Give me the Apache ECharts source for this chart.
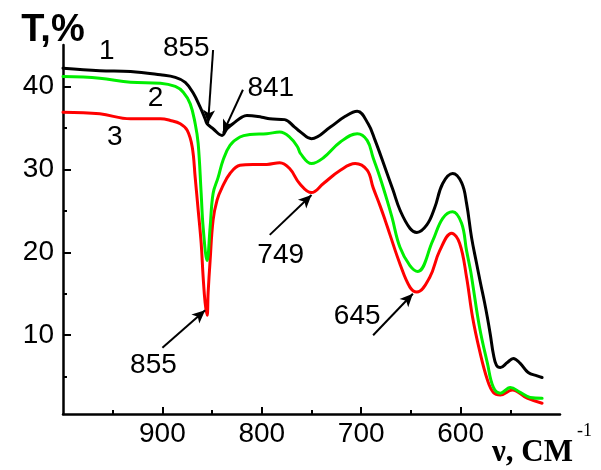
<!DOCTYPE html>
<html>
<head>
<meta charset="utf-8">
<script src="https://cdn.jsdelivr.net/npm/echarts@6/dist/echarts.min.js"></script>
<style>
html,body{margin:0;padding:0;background:#fff;}
#chart{width:601px;height:470px;}
</style>
</head>
<body>
<div id="chart"></div>
<script>
// ---- Data (wavenumber, cm^-1 ; transmittance, %) ----
const wn1 = [1000, 963, 932, 902, 887, 877, 869, 862, 857, 855, 849, 840, 835, 827, 820, 815, 800, 792, 777, 767, 762, 750, 731, 716, 704, 693, 686, 676, 668, 661, 651, 644, 634, 626, 618, 608, 599, 594, 589, 584, 580, 576, 573, 570, 567, 564, 560, 553, 547, 540, 532, 523, 518];
const t1  = [42.2, 41.9, 41.8, 41.4, 41.1, 40.5, 39.2, 37.5, 36.1, 35.5, 34.9, 34.1, 34.9, 35.7, 36.3, 36.5, 36.3, 36.1, 36.0, 35.1, 34.6, 33.7, 35.1, 36.4, 37.0, 35.5, 33.5, 30.2, 27.5, 25.1, 22.9, 22.4, 23.3, 25.4, 28.3, 29.5, 28.4, 25.9, 21.8, 18.7, 16.3, 14.0, 12.1, 10.0, 7.7, 6.4, 6.1, 6.7, 7.2, 6.6, 5.5, 5.1, 4.9];

const wn2 = [1000, 963, 932, 902, 887, 879, 872, 867, 864, 861, 859, 855, 852, 849, 844, 839, 832, 822, 812, 795, 782, 772, 764, 761, 750, 738, 721, 704, 694, 688, 681, 674, 669, 661, 651, 643, 628, 618, 608, 599, 594, 590, 588, 581, 573, 567, 560, 550, 540, 530, 518];
const t2  = [41.2, 41.0, 40.5, 40.4, 40.0, 39.3, 37.9, 35.5, 33.1, 27.1, 23.0, 19.0, 23.0, 27.1, 29.0, 31.1, 32.9, 33.9, 34.2, 34.3, 34.5, 33.9, 32.7, 31.9, 30.7, 31.4, 33.3, 34.3, 33.5, 31.4, 29.0, 26.3, 24.2, 20.6, 18.4, 17.7, 21.4, 24.1, 24.9, 23.5, 20.2, 17.8, 16.3, 11.0, 6.6, 3.7, 3.0, 3.7, 3.1, 2.5, 2.4];

const wn3 = [1000, 963, 932, 902, 892, 882, 875, 870, 867, 864, 861, 859, 857, 855, 854, 852, 849, 845, 840, 832, 822, 809, 795, 782, 772, 762, 750, 738, 721, 706, 694, 688, 681, 676, 671, 661, 651, 644, 631, 621, 609, 601, 594, 588, 581, 573, 567, 560, 548, 533, 518];
const t3  = [36.9, 36.7, 36.1, 36.1, 35.9, 35.5, 34.7, 32.7, 29.0, 25.1, 21.1, 17.0, 13.9, 12.4, 15.1, 19.0, 23.9, 26.3, 27.8, 29.5, 30.5, 30.6, 30.6, 30.8, 30.1, 28.3, 27.2, 28.3, 29.9, 30.7, 29.9, 27.8, 25.6, 23.9, 22.1, 18.6, 15.8, 15.2, 17.0, 20.2, 22.3, 21.1, 17.0, 12.2, 8.2, 4.6, 3.1, 2.8, 3.4, 2.4, 1.8];

const xLabels = [600, 700, 800, 900];
const xMinor  = [550, 650, 750, 850, 950];
const yLabels = [10, 20, 30, 40];
const yMinor  = [5, 15, 25, 35];

// annotations (data coordinates)
const noteText = ['1', '2', '3', '855', '841', '855', '749', '645'];
const noteWn   = [956, 907, 948, 876, 791, 909, 781, 704];
const noteT    = [44.2, 38.6, 33.9, 44.6, 39.8, 6.4, 19.6, 12.3];
const arrowFrom = [[849, 44.4], [819, 39.6], [900, 8.5], [792, 22.1], [688, 10.0]];
const arrowTo   = [[854, 35.6], [839, 34.4], [857, 13.0], [750, 26.9], [648, 15.0]];

const zip = (a, b) => a.map((v, i) => [v, b[i]]);

const chart = echarts.init(document.getElementById('chart'), null, {renderer: 'canvas'});
const FONT = "'Liberation Sans', Arial, sans-serif";

const lineSeries = (data, color, extra) => Object.assign({
  type: 'line', data: data, xAxisIndex: 0, yAxisIndex: 0,
  smooth: 0.4, symbol: 'none',
  lineStyle: {color: color, width: 3, join: 'round', cap: 'round'}, itemStyle: {color: color},
  animation: false, silent: true
}, extra || {});

const option = {
  animation: false,
  backgroundColor: '#fff',
  grid: {left: 63, right: 41, top: 45, bottom: 56, containLabel: false},
  xAxis: [
    {type: 'value', inverse: true, min: 500, max: 1000, position: 'bottom',
     axisLine: {show: true, lineStyle: {color: '#000', width: 2.5}},
     axisTick: {show: true, inside: true, length: 7, customValues: xLabels, lineStyle: {color: '#000', width: 2}},
     axisLabel: {show: true, customValues: xLabels, color: '#000', fontSize: 28, fontFamily: FONT, margin: 6},
     splitLine: {show: false}},
    {type: 'value', inverse: true, min: 500, max: 1000, position: 'bottom',
     axisLine: {show: false},
     axisTick: {show: true, inside: true, length: 4, customValues: xMinor, lineStyle: {color: '#000', width: 2}},
     axisLabel: {show: false}, splitLine: {show: false}}
  ],
  yAxis: [
    {type: 'value', min: 0.5, max: 45, position: 'left',
     axisLine: {show: true, lineStyle: {color: '#000', width: 2.5}},
     axisTick: {show: true, inside: true, length: 8, customValues: yLabels, lineStyle: {color: '#000', width: 2}},
     axisLabel: {show: true, customValues: yLabels, color: '#000', fontSize: 28, fontFamily: FONT, margin: 9},
     splitLine: {show: false}},
    {type: 'value', min: 0.5, max: 45, position: 'left',
     axisLine: {show: false},
     axisTick: {show: true, inside: true, length: 4, customValues: yMinor, lineStyle: {color: '#000', width: 2}},
     axisLabel: {show: false}, splitLine: {show: false}}
  ],
  series: [
    lineSeries(zip(wn3, t3), '#ff0000'),
    lineSeries(zip(wn2, t2), '#00ee00'),
    lineSeries(zip(wn1, t1), '#000000', {
      markLine: {
        silent: true, animation: false,
        symbol: ['none', 'arrow'], symbolSize: [9, 13],
        label: {show: false},
        lineStyle: {color: '#000', width: 2, type: 'solid'},
        data: arrowFrom.map((f, i) => [{coord: f}, {coord: arrowTo[i]}])
      }
    })
  ]
};
chart.setOption(option);

const gfx = [];
noteText.forEach((t, i) => {
  const p = chart.convertToPixel({xAxisIndex: 0, yAxisIndex: 0}, [noteWn[i], noteT[i]]);
  gfx.push({type: 'text', x: p[0], y: p[1], silent: true,
    style: {text: t, fill: '#000', font: "28px " + FONT, textAlign: 'center', textVerticalAlign: 'middle'}});
});
gfx.push({type: 'text', x: 53, y: 31, silent: true,
  style: {text: 'T,%', fill: '#000', font: "bold 38px " + FONT, textAlign: 'center', textVerticalAlign: 'middle'}});
gfx.push({type: 'text', x: 492, y: 453, silent: true,
  style: {text: 'ν, СМ', fill: '#000', font: "bold 31px 'Liberation Serif', 'Times New Roman', serif", textAlign: 'left', textVerticalAlign: 'middle'}});
gfx.push({type: 'text', x: 577, y: 431, silent: true,
  style: {text: '-1', fill: '#000', font: "18px 'Liberation Serif', 'Times New Roman', serif", textAlign: 'left', textVerticalAlign: 'middle'}});
chart.setOption({graphic: gfx});
</script>
</body>
</html>
